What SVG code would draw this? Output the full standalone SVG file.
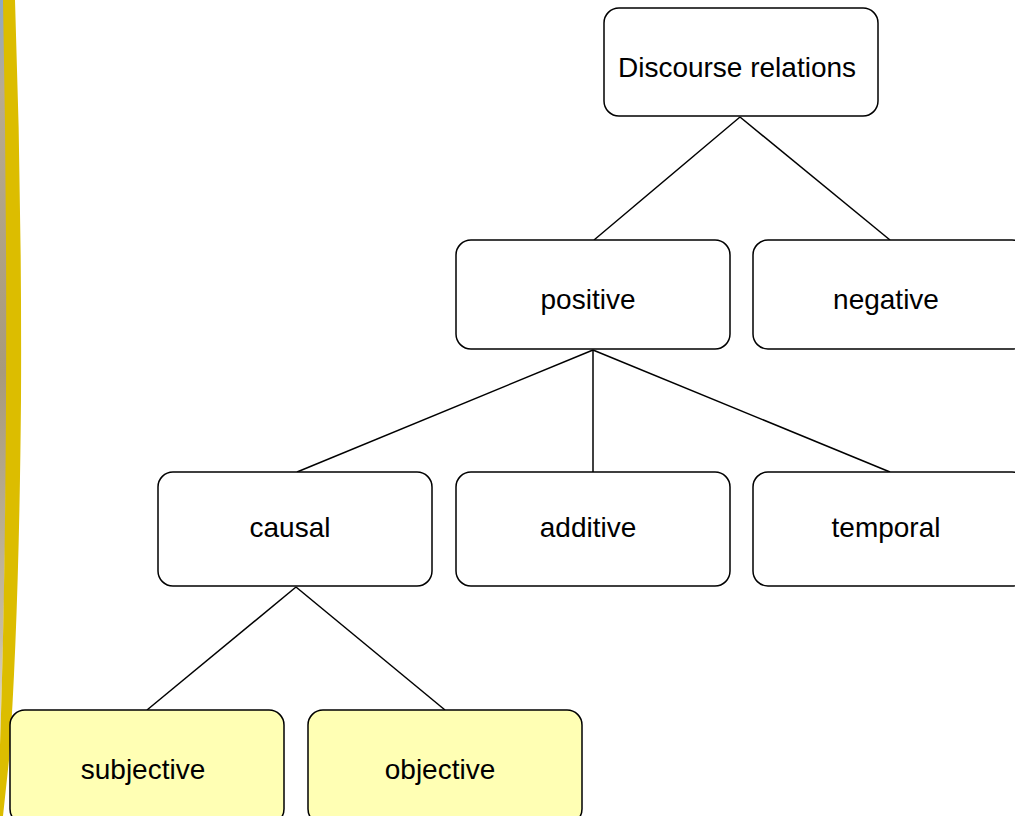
<svg xmlns="http://www.w3.org/2000/svg" width="1015" height="816" viewBox="0 0 1015 816">
  <style>
    .box { fill: #ffffff; stroke: #000000; stroke-width: 1.5; }
    .box.leaf { fill: #ffffb4; }
    .label { font-family: "Liberation Sans", Arial, sans-serif; font-size: 28px; fill: #000000; text-anchor: middle; dominant-baseline: central; }
    .edge { stroke: #000000; stroke-width: 1.5; fill: none; }
  </style>
  <defs>
    <linearGradient id="photo" x1="0" y1="0" x2="0" y2="1">
      <stop offset="0" stop-color="#8ea9c4"/>
      <stop offset="0.12" stop-color="#b8ab90"/>
      <stop offset="0.5" stop-color="#a89a7c"/>
      <stop offset="0.85" stop-color="#c7bca0"/>
      <stop offset="1" stop-color="#e9e2cf"/>
    </linearGradient>
  </defs>

  <rect width="1015" height="816" fill="#ffffff"/>

  <!-- page edge: photo strip and yellow band -->
  <g id="edge-decoration">
    <path d="M0 0 L4 0 Q8 200 7 400 Q5 600 0 745 Z" fill="url(#photo)"/>
    <path d="M3 0 L15 0 Q22 200 21 400 Q19 620 9 760 L3 816 L0 816 L0 745 Q5 600 6 400 Q7 200 3 0 Z" fill="#dcbd00"/>
  </g>

  <g id="connectors">
    <line class="edge" x1="740" y1="117" x2="594" y2="240"/>
    <line class="edge" x1="740" y1="117" x2="890" y2="240"/>
    <line class="edge" x1="593" y1="350" x2="297" y2="472"/>
    <line class="edge" x1="593" y1="350" x2="593" y2="472"/>
    <line class="edge" x1="593" y1="350" x2="890" y2="472"/>
    <line class="edge" x1="296" y1="587" x2="147" y2="710"/>
    <line class="edge" x1="296" y1="587" x2="445" y2="710"/>
  </g>

  <g id="node-discourse-relations">
    <rect class="box" x="604" y="8" width="274" height="108" rx="15"/>
    <text class="label" x="737" y="67">Discourse relations</text>
  </g>
  <g id="node-positive">
    <rect class="box" x="456" y="240" width="274" height="109" rx="15"/>
    <text class="label" x="588" y="299">positive</text>
  </g>
  <g id="node-negative">
    <rect class="box" x="753" y="240" width="274" height="109" rx="15"/>
    <text class="label" x="886" y="299">negative</text>
  </g>
  <g id="node-causal">
    <rect class="box" x="158" y="472" width="274" height="114" rx="15"/>
    <text class="label" x="290" y="527">causal</text>
  </g>
  <g id="node-additive">
    <rect class="box" x="456" y="472" width="274" height="114" rx="15"/>
    <text class="label" x="588" y="527">additive</text>
  </g>
  <g id="node-temporal">
    <rect class="box" x="753" y="472" width="274" height="114" rx="15"/>
    <text class="label" x="886" y="527">temporal</text>
  </g>
  <g id="node-subjective">
    <rect class="box leaf" x="10" y="710" width="274" height="114" rx="15"/>
    <text class="label" x="143" y="769">subjective</text>
  </g>
  <g id="node-objective">
    <rect class="box leaf" x="308" y="710" width="274" height="114" rx="15"/>
    <text class="label" x="440" y="769">objective</text>
  </g>
</svg>
